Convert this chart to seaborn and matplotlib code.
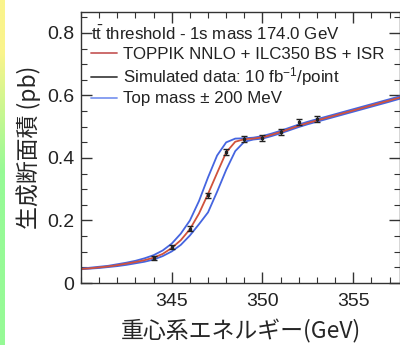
import numpy as np
import pandas as pd
import matplotlib
matplotlib.use("Agg")
import matplotlib.pyplot as plt
import seaborn as sns
from matplotlib.ticker import MultipleLocator, FuncFormatter, FixedLocator
from matplotlib.lines import Line2D

# ---- data ----
energy = [340, 340.5, 341, 341.5, 342, 342.5, 343, 343.5, 344, 344.5, 345, 345.5,
          346, 346.5, 347, 347.5, 348, 348.5, 349, 349.5, 350, 350.5, 351, 351.5,
          352, 352.5, 353, 353.5, 354, 354.5, 355, 355.5, 356, 356.5, 357, 357.6]
xsec_central = [0.045, 0.047, 0.050, 0.053, 0.057, 0.062, 0.067, 0.073, 0.081, 0.093, 0.112, 0.137,
                0.172, 0.222, 0.285, 0.352, 0.418, 0.452, 0.460, 0.462, 0.466, 0.474, 0.483, 0.493,
                0.503, 0.512, 0.520, 0.528, 0.536, 0.544, 0.552, 0.560, 0.568, 0.576, 0.584, 0.594]
xsec_mass_low = [0.046, 0.049, 0.052, 0.055, 0.060, 0.065, 0.071, 0.079, 0.089, 0.104, 0.126, 0.158,
                 0.200, 0.262, 0.338, 0.408, 0.450, 0.462, 0.463, 0.465, 0.470, 0.478, 0.487, 0.497,
                 0.507, 0.516, 0.524, 0.532, 0.540, 0.548, 0.556, 0.564, 0.572, 0.580, 0.588, 0.598]
xsec_mass_high = [0.044, 0.046, 0.048, 0.051, 0.054, 0.058, 0.063, 0.068, 0.075, 0.086, 0.101, 0.122,
                  0.152, 0.188, 0.226, 0.292, 0.362, 0.422, 0.452, 0.459, 0.462, 0.470, 0.479, 0.489,
                  0.499, 0.508, 0.516, 0.524, 0.532, 0.540, 0.548, 0.556, 0.564, 0.572, 0.580, 0.590]

data_energy = [344, 345, 346, 347, 348, 349, 350, 351, 352, 353]
data_xsec = [0.080, 0.115, 0.173, 0.280, 0.420, 0.460, 0.463, 0.483, 0.515, 0.525]
data_err = [0.006, 0.007, 0.008, 0.009, 0.010, 0.010, 0.010, 0.010, 0.010, 0.010]

x_ticks = [345, 350, 355]
y_ticks = [0, 0.2, 0.4, 0.6, 0.8]

legend_title = "t$\\bar{\\mathsf{t}}$ threshold - 1s mass 174.0 GeV"
legend_labels = ["TOPPIK NNLO + ILC350 BS + ISR",
                 "Simulated data: 10 fb$^{\\mathsf{-1}}$/point",
                 "Top mass \u00b1 200 MeV"]
xlabel = "重心系エネルギー(GeV)"
ylabel = "生成断面積 (pb)"

# ---- style ----
sns.set_style("ticks")
plt.rcParams['font.family'] = ['Liberation Sans', 'DejaVu Sans']
plt.rcParams['mathtext.fontset'] = 'custom'
plt.rcParams['mathtext.rm'] = 'Liberation Sans'
plt.rcParams['mathtext.sf'] = 'Liberation Sans'
plt.rcParams['mathtext.it'] = 'Liberation Sans:italic'

RED = '#d0523c'
BLUE = '#4565e0'

fig = plt.figure(figsize=(4.0, 3.45), dpi=100)
ax = fig.add_axes([81/400, 62/345, (400.4-81)/400, (283-12)/345])

df = pd.DataFrame({"E": energy, "c": xsec_central, "lo": xsec_mass_low, "hi": xsec_mass_high})
sns.lineplot(data=df, x="E", y="lo", ax=ax, color=BLUE, lw=1.3, estimator=None, sort=False)
sns.lineplot(data=df, x="E", y="hi", ax=ax, color=BLUE, lw=1.3, estimator=None, sort=False)
sns.lineplot(data=df, x="E", y="c", ax=ax, color=RED, lw=1.3, estimator=None, sort=False)
ax.errorbar(data_energy, data_xsec, yerr=data_err, fmt='s', ms=1.6, color='#222222',
            ecolor='#222222', elinewidth=1.0, capsize=2.2, capthick=1.0, zorder=5)

ax.set_xlim(340, 357.6)
ax.set_ylim(0, 0.867)
ax.xaxis.set_major_locator(FixedLocator(x_ticks))
ax.xaxis.set_minor_locator(MultipleLocator(1))
ax.yaxis.set_major_locator(FixedLocator(y_ticks))
ax.yaxis.set_minor_locator(MultipleLocator(0.05))
ax.yaxis.set_major_formatter(FuncFormatter(lambda v, p: "0" if abs(v) < 1e-9 else f"{v:.1f}"))
ax.tick_params(which='both', direction='in', top=True, right=True, color='#333333')
ax.tick_params(which='major', length=8, width=1.0, labelsize=14, pad=5, labelcolor='#222222')
ax.tick_params(axis='x', which='major', pad=7)
ax.tick_params(which='minor', length=4, width=0.8)
for s in ax.spines.values():
    s.set_linewidth(1.0)
    s.set_color('#333333')

ax.set_xlabel(xlabel, family=['Noto Sans CJK JP'], fontsize=16.5, labelpad=7)
ax.set_ylabel(ylabel, family=['Noto Sans CJK JP'], fontsize=16.5, labelpad=4)

handles = [Line2D([], [], color='#c86060', lw=1.3),
           Line2D([], [], color='#444444', lw=1.3),
           Line2D([], [], color='#7f98f0', lw=1.3)]
leg = ax.legend(handles, legend_labels, title=legend_title, loc='upper left',
                bbox_to_anchor=(-0.005, 0.995), frameon=False, fontsize=12.2,
                title_fontsize=12.2, alignment='left', handlelength=1.5,
                handletextpad=0.4, labelspacing=0.2, borderpad=0.2)
for t in leg.get_texts():
    t.set_color('#222222')
leg.get_title().set_color('#222222')

# decorative gradient strip on left edge (slide background)
sax = fig.add_axes([0, 0, 5/400, 1])
grad = np.linspace(0, 1, 256)[:, None]
cols = np.zeros((256, 1, 3))
top = np.array([250, 244, 140]) / 255
bot = np.array([150, 250, 150]) / 255
w = np.clip((grad - 0.15) / 0.35, 0, 1)
cols[:, 0, :] = top * (1 - w) + bot * w
sax.imshow(cols, aspect='auto', extent=[0, 1, 0, 1], origin='upper')
sax.axis('off')

fig.savefig("out.png", dpi=100)
